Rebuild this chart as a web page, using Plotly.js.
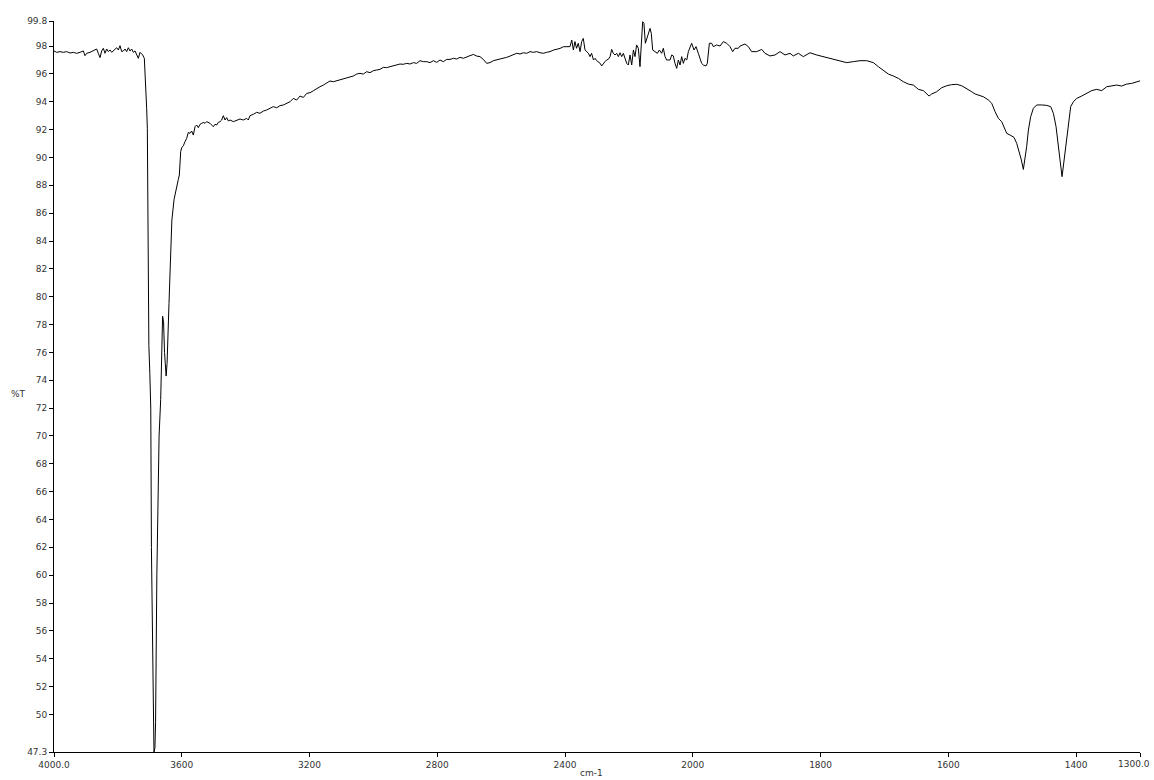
<!DOCTYPE html>
<html>
<head>
<meta charset="utf-8">
<script src="https://cdn.plot.ly/plotly-3.0.1.min.js"></script>
<style>
  html, body { margin: 0; padding: 0; background: #ffffff; }
  #chart { width: 1154px; height: 780px; }
</style>
</head>
<body>
<div id="chart"></div>
<script>
// Wavenumber (cm-1) and transmittance (%T)
const wavenumber = [
4000,3991.6,3981.2,3970.8,3960.3,3949.9,3939.5,3929,3918.6,3908.1,3902.9,3897.7,3887.3,3876.8,3866.4,3861.2,3856,3850.7,3845.5,3840.3,
3835.1,3829.9,3824.7,3819.4,3814.2,3803.8,3798.6,3793.3,3788.1,3782.9,3777.7,3772.5,3767.3,3762,3756.8,3751.6,3746.4,3741.2,3736,3730.7,
3722.4,3717.2,3714,3709.9,3707.8,3707,3705,3703,3700,3697,3695,3691,3687,3684,3682,3678,3671,3666,3663,3660,
3657,3654,3649,3646,3640,3635,3631,3624,3616,3611,3607.6,3603.4,3600.3,3595.1,3589.9,3584.6,3579.4,3574.2,3569,3563.8,
3558.5,3553.3,3548.1,3542.9,3537.7,3532.4,3527.2,3522,3511.6,3506.4,3501.1,3495.9,3490.7,3485.5,3480.3,3475,3469.8,3464.6,3459.4,3454.2,
3449,3438.5,3428.1,3417.6,3407.2,3396.8,3391.6,3386.3,3375.9,3365.5,3355,3344.6,3334.2,3323.7,3313.3,3302.9,3292.4,3282,3271.6,3261.1,
3250.7,3240.2,3229.8,3219.4,3208.9,3198.5,3188.1,3177.6,3167.2,3156.7,3146.3,3135.9,3125.4,3115,3104.6,3094.1,3083.7,3073.3,3062.8,3052.4,
3042,3031.5,3021.1,3010.6,3000.2,2989.8,2979.3,2968.9,2958.5,2948,2937.6,2927.2,2916.7,2906.3,2895.8,2885.4,2875,2864.5,2854.1,2843.7,
2833.2,2822.8,2812.4,2801.9,2791.5,2781,2770.6,2760.2,2749.7,2739.3,2728.9,2718.4,2708,2697.6,2687.1,2676.7,2666.3,2655.8,2645.4,2634.9,
2624.5,2614.1,2603.6,2593.2,2582.8,2572.3,2561.9,2551.5,2541,2530.6,2520.1,2509.7,2499.3,2488.8,2478.4,2468,2457.5,2447.1,2436.7,2426.2,
2415.8,2405.4,2394.9,2384.5,2379,2374,2369,2364,2358.6,2353,2348,2343,2337.5,2332,2327,2322,2317,2311,2306,2301,
2296,2290,2285.5,2280,2275,2270,2264.6,2259,2254,2249,2243.6,2238.4,2233,2228,2222.6,2217.5,2212,2207,2202,2196.6,
2191.4,2186,2181,2176,2170.6,2165.4,2157,2153,2148.6,2142.4,2138,2134,2130,2125.7,2118.4,2111,2104.8,2097.5,2092.3,2087,
2081.9,2071.4,2066,2061,2055.8,2050.5,2045.3,2040,2034.9,2029.7,2024.5,2019,2014,2008.8,2003.6,1998.1,1995,1991.4,1986.2,1983.5,
1979.4,1977.3,1974.1,1970.5,1967.9,1962.7,1957.4,1952.2,1947,1941.8,1937.6,1934,1928.8,1926.1,1918.3,1913.1,1907.9,1900,1892.2,1887,
1879.2,1871.3,1863.5,1855.7,1847.9,1842.7,1834.8,1827,1821.8,1816.6,1806.1,1795.7,1785.3,1774.8,1767,1759.2,1748.7,1738.3,1727.8,1717.4,
1709.6,1701.7,1693.9,1686.1,1678.3,1670.4,1662.6,1654.8,1646.9,1639.1,1633.9,1630.2,1626.1,1618.2,1610.4,1602.6,1594.8,1586.9,1579.1,1571.3,
1563.4,1558.2,1553,1545.2,1537.4,1532.1,1526.9,1521.7,1516.5,1511.3,1508.6,1503.4,1497.2,1493,1488.8,1485.7,1482.6,1480,1477.4,1474.7,
1471.1,1466.9,1461.7,1453.9,1446,1439.8,1435.6,1431.4,1427.8,1425.2,1422,1418.9,1415.8,1412.1,1408.5,1404.3,1399.1,1391.3,1383.4,1375.6,
1367.8,1359.9,1352.1,1344.3,1336.5,1328.6,1320.8,1313,1305.2,1301,1300
];
const transmittance = [
97.65,97.55,97.6,97.55,97.6,97.5,97.55,97.48,97.55,97.65,97.31,97.48,97.55,97.65,97.79,97.48,97.17,97.65,97.84,97.48,
97.79,97.6,97.72,97.55,97.65,97.88,97.72,98.03,97.6,97.65,97.79,97.6,97.88,97.65,97.79,97.55,97.65,97.36,97.12,97.55,
97.36,97.12,95.92,93.53,92.09,88.4,81.0,76.5,74.5,72.0,62.0,52.5,47.3,47.6,49.4,60.0,70.0,72.6,76.0,78.6,
78.2,76.0,74.3,75.2,79.5,83.0,85.5,87.0,88.0,88.4,88.74,90.41,90.7,90.84,91.13,91.37,91.8,91.73,91.9,91.61,
92.21,92.33,92.14,92.38,92.45,92.52,92.45,92.57,92.45,92.33,92.21,92.38,92.33,92.52,92.57,92.69,93.0,92.69,92.86,92.62,
92.69,92.57,92.69,92.76,92.69,92.81,92.69,93.0,93.1,93.24,93.17,93.33,93.41,93.53,93.65,93.57,93.72,93.77,93.89,94.0,
94.24,94.12,94.41,94.31,94.6,94.65,94.79,94.96,95.08,95.2,95.32,95.49,95.44,95.51,95.56,95.61,95.68,95.75,95.85,95.99,
96.04,95.99,96.16,96.09,96.23,96.28,96.33,96.47,96.45,96.52,96.57,96.64,96.71,96.69,96.76,96.71,96.81,96.76,96.95,96.88,
96.88,96.81,96.95,96.83,97.0,96.88,97.04,97.04,97.12,97.07,97.19,97.12,97.24,97.31,97.4,97.28,97.24,97.04,96.76,96.81,
96.95,97.0,97.04,97.12,97.19,97.28,97.36,97.48,97.43,97.52,97.48,97.6,97.55,97.6,97.52,97.48,97.55,97.6,97.71,97.76,
97.83,97.95,97.98,97.96,98.43,97.72,98.32,97.84,98.2,97.6,98.32,98.55,97.72,97.6,97.48,97.24,97.48,97.0,97.12,96.95,
96.88,96.76,96.57,96.76,96.88,97.0,97.05,97.24,97.76,97.48,97.36,97.48,97.24,97.52,97.24,97.48,97.0,96.76,96.64,97.36,
96.64,97.72,97.24,98.08,97.84,96.52,99.75,99.63,98.2,98.67,98.91,99.27,98.91,97.72,97.6,97.48,97.72,97.48,97.84,97.24,
97.0,97.0,97.36,97.29,96.76,96.4,97.0,96.64,97.24,96.76,97.12,97.0,97.6,97.96,98.2,97.72,97.96,97.48,96.76,96.64,
96.57,96.76,98.2,98.2,97.96,98.08,98.0,98.32,98.2,97.96,97.6,97.84,97.84,98.0,98.15,97.96,97.6,97.6,97.76,97.48,
97.29,97.36,97.6,97.36,97.48,97.29,97.48,97.24,97.36,97.52,97.36,97.24,97.12,97.0,96.88,96.81,96.88,96.95,96.95,96.81,
96.52,96.28,95.99,95.85,95.68,95.44,95.27,95.2,94.89,94.8,94.56,94.41,94.56,94.72,95.01,95.15,95.23,95.25,95.15,94.96,
94.72,94.56,94.48,94.36,94.13,93.89,93.29,92.81,92.57,92.09,91.73,91.61,91.44,91.01,90.41,89.82,89.14,89.82,90.77,91.97,
92.93,93.53,93.77,93.77,93.74,93.65,93.17,92.21,91.01,89.82,88.62,89.82,91.25,92.69,93.65,94.0,94.24,94.41,94.6,94.8,
94.89,94.8,95.08,95.13,95.2,95.13,95.27,95.32,95.44,95.51,95.5
];

// Axis ticks (the last label, 1300.0, is drawn right-aligned so it stays inside the page)
const xTickWavenumbers = [4000, 3600, 3200, 2800, 2400, 2000, 1800, 1600, 1400, 1300];
const xTickLabels = ['4000.0', '3600', '3200', '2800', '2400', '2000', '1800', '1600', '1400', '1300.0'];
const yTickValues = [47.3, 50, 52, 54, 56, 58, 60, 62, 64, 66, 68, 70, 72, 74, 76, 78, 80, 82, 84, 86, 88, 90, 92, 94, 96, 98, 99.8];
const yTickLabels = ['47.3', '50', '52', '54', '56', '58', '60', '62', '64', '66', '68', '70', '72', '74', '76', '78', '80', '82', '84', '86', '88', '90', '92', '94', '96', '98', '99.8'];

// Spectrometer abscissa: 2x expansion below 2000 cm-1
function scaleX(w) { return w >= 2000 ? 4000 - w : 2000 + 2 * (2000 - w); }

const trace = {
  x: wavenumber.map(scaleX),
  y: transmittance,
  type: 'scatter',
  mode: 'lines',
  line: { color: '#000000', width: 1 },
  hoverinfo: 'skip'
};

const tickFont = { family: 'DejaVu Sans, sans-serif', size: 9, color: '#333333' };
const lastIdx = xTickLabels.length - 1;
const shownXTickText = xTickLabels.map((t, i) => i === lastIdx ? '' : t);

const layout = {
  width: 1154,
  height: 780,
  margin: { l: 54, r: 14, t: 21, b: 28, pad: 0 },
  paper_bgcolor: '#ffffff',
  plot_bgcolor: '#ffffff',
  showlegend: false,
  hovermode: false,
  xaxis: {
    range: [scaleX(4000), scaleX(1300)],
    tickmode: 'array',
    tickvals: xTickWavenumbers.map(scaleX),
    ticktext: shownXTickText,
    ticks: 'outside',
    ticklen: 4,
    tickwidth: 1,
    tickcolor: '#000000',
    ticklabeloverflow: 'allow',
    showline: true,
    linecolor: '#000000',
    linewidth: 1,
    showgrid: false,
    zeroline: false,
    tickfont: tickFont,
    fixedrange: true
  },
  yaxis: {
    range: [47.3, 99.8],
    tickmode: 'array',
    tickvals: yTickValues,
    ticktext: yTickLabels,
    ticks: 'outside',
    ticklen: 4,
    tickwidth: 1,
    tickcolor: '#000000',
    ticklabeloverflow: 'allow',
    showline: true,
    linecolor: '#000000',
    linewidth: 1,
    showgrid: false,
    zeroline: false,
    tickfont: tickFont,
    fixedrange: true
  },
  annotations: [
    { text: xTickLabels[lastIdx], xref: 'paper', yref: 'paper', x: 1.0115, y: -0.0165,
      xanchor: 'right', yanchor: 'middle', showarrow: false, font: tickFont },
    { text: 'cm-1', xref: 'paper', yref: 'paper', x: 0.4945, y: -0.029,
      xanchor: 'center', yanchor: 'middle', showarrow: false, font: tickFont },
    { text: '%T', xref: 'paper', yref: 'paper', x: -0.0331, y: 0.4897,
      xanchor: 'center', yanchor: 'middle', showarrow: false, font: tickFont }
  ]
};

Plotly.newPlot('chart', [trace], layout, { staticPlot: true, displayModeBar: false });
</script>
</body>
</html>
